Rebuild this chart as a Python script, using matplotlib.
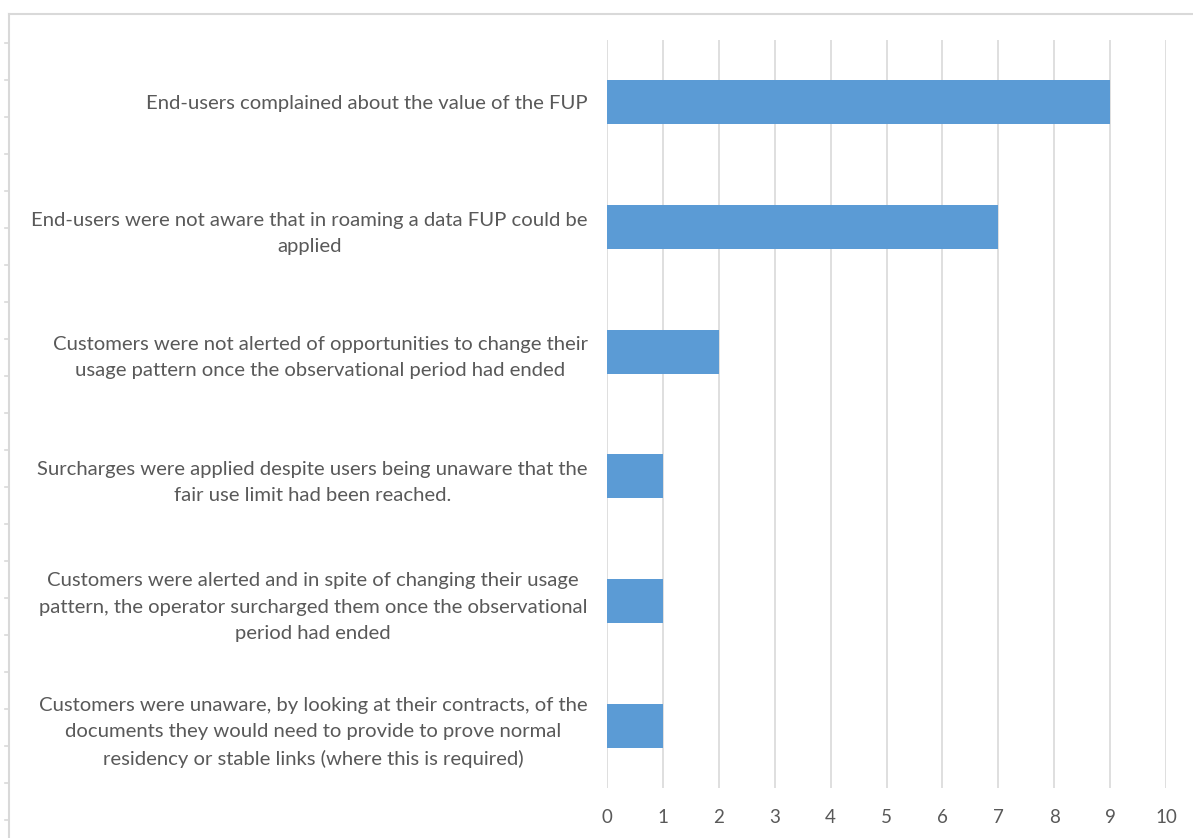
import matplotlib
matplotlib.use("Agg")
import matplotlib.pyplot as plt
from matplotlib.lines import Line2D

categories = [
    "End-users complained about the value of the FUP",
    "End-users were not aware that in roaming a data FUP could be\napplied",
    "Customers were not alerted of opportunities to change their\nusage pattern once the observational period had ended",
    "Surcharges were applied despite users being unaware that the\nfair use limit had been reached.",
    "Customers were alerted and in spite of changing their usage\npattern, the operator surcharged them once the observational\nperiod had ended",
    "Customers were unaware, by looking at their contracts, of the\ndocuments they would need to provide to prove normal\nresidency or stable links (where this is required)",
]
values = [9, 7, 2, 1, 1, 1]
x_ticks = list(range(0, 11))

W, H = 1193, 838
fig = plt.figure(figsize=(W / 100, H / 100), dpi=100)
plt.rcParams['font.family'] = ['Lato', 'DejaVu Sans']

text_color = "#595959"
grid_color = "#D9D9D9"
bar_color = "#5B9BD5"

# outer frame of the chart area (top and left edges)
fig.add_artist(Line2D([9 / W, 1.0], [1 - 14 / H, 1 - 14 / H], color=grid_color, lw=1.5, transform=fig.transFigure))
fig.add_artist(Line2D([9 / W, 9 / W], [0, 1 - 14 / H], color=grid_color, lw=1.5, transform=fig.transFigure))
# small marks along the left edge
y = 43
while y < H:
    fig.add_artist(Line2D([5 / W, 9 / W], [1 - y / H, 1 - y / H], color=grid_color, lw=1.2, transform=fig.transFigure))
    y += 37

left, right = 607, 1166
top, bottom = 40, 788
ax = fig.add_axes([left / W, 1 - bottom / H, (right - left) / W, (bottom - top) / H])

ypos = list(range(len(categories)))
ax.barh(ypos, values, height=0.355, color=bar_color, zorder=3)
ax.set_ylim(len(categories) - 0.5, -0.5)
ax.set_xlim(0, 10)
ax.set_xticks(x_ticks)
ax.set_xticklabels([str(t) for t in x_ticks], fontsize=13.5, color=text_color)
ax.tick_params(axis='x', length=0, pad=15)
ax.set_yticks(ypos)
ax.set_yticklabels(categories, fontsize=14.6, color=text_color,
                   multialignment='center', linespacing=1.65)
ax.tick_params(axis='y', length=0, pad=14)
ax.grid(axis='x', color=grid_color, lw=1.2, zorder=0)
for s in ax.spines.values():
    s.set_visible(False)

fig.savefig("out.png", dpi=100)
